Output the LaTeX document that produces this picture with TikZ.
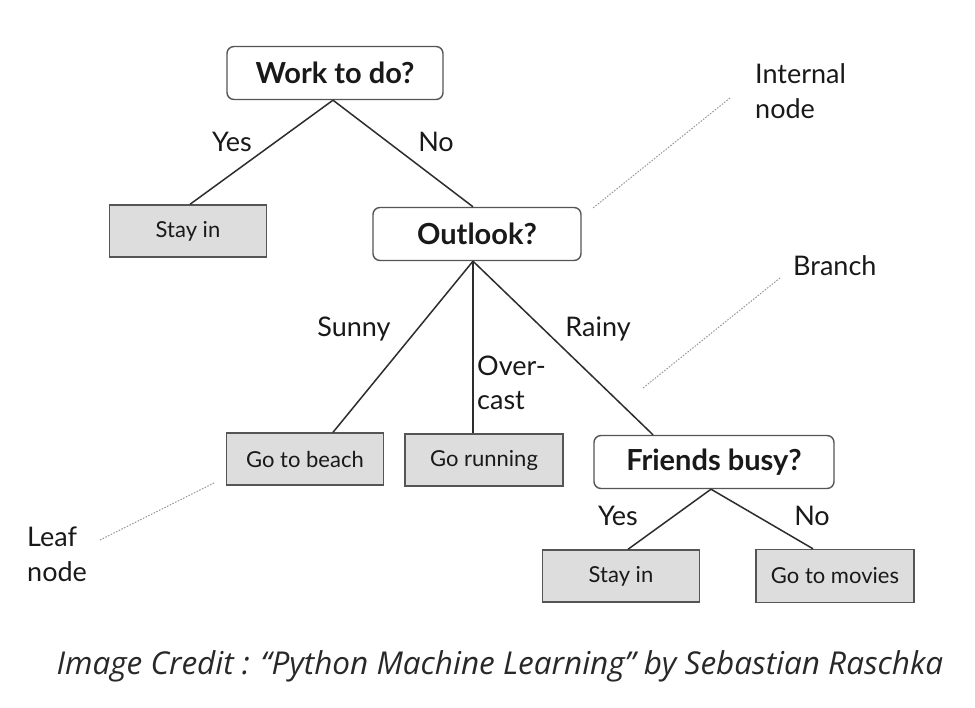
\documentclass[tikz,border=0pt]{standalone}
\usepackage{fontspec}
\setmainfont{Lato}
\newfontfamily\capfont{Open Sans}
\definecolor{boxgray}{RGB}{221,221,221}
\definecolor{edgegray}{RGB}{85,85,85}
\definecolor{linedark}{RGB}{45,45,45}
\definecolor{txt}{RGB}{25,25,25}
\definecolor{dotgray}{RGB}{150,150,150}
\definecolor{capgray}{RGB}{40,40,40}
\begin{document}
\begin{tikzpicture}[x=1pt,y=-1pt,
  qbox/.style={draw=edgegray,line width=1.4pt,rounded corners=7pt,fill=white,
    minimum width=#1,minimum height=53pt,inner sep=0pt,text=txt,
    font=\fontsize{29}{32}\selectfont\bfseries},
  leaf/.style={draw=edgegray,line width=1.4pt,fill=boxgray,
    minimum width=157pt,minimum height=52pt,inner sep=0pt,text=txt,
    font=\fontsize{22}{24}\selectfont},
  lbl/.style={text=txt,inner sep=0pt,font=\fontsize{27}{34}\selectfont},
  ann/.style={text=txt,inner sep=0pt,align=left,font=\fontsize{27}{35}\selectfont},
  branch/.style={draw=linedark,line width=1.5pt},
  pointer/.style={draw=dotgray,line width=1pt,dash pattern=on 1.5pt off 1.5pt}]
\useasboundingbox[fill=white] (0,0) rectangle (975,708);

% internal nodes
\node[qbox=216pt] (work) at (335,73) {Work to do?};
\node[qbox=208pt] (outlook) at (477,234) {Outlook?};
\node[qbox=240pt] (friends) at (714,462) {Friends busy?};

% leaves
\node[leaf] (stay1) at (188,231) {Stay in};
\node[leaf] (beach) at (305,459) {Go to beach};
\node[leaf,minimum width=158pt] (run) at (484,460) {Go running};
\node[leaf] (stay2) at (621,576) {Stay in};
\node[leaf,minimum width=158pt,minimum height=53pt] (movies) at (835,576) {Go to movies};

% branches
\draw[branch] ([xshift=-2pt]work.south) -- ([xshift=2pt]stay1.north);
\draw[branch] ([xshift=-2pt]work.south) -- ([xshift=-4pt]outlook.north);
\draw[branch] ([xshift=-4pt]outlook.south) -- ([xshift=28pt]beach.north);
\draw[branch] ([xshift=-4pt]outlook.south) -- ([xshift=-11pt]run.north);
\draw[branch] ([xshift=-4pt]outlook.south) -- ([xshift=-61pt]friends.north);
\draw[branch] ([xshift=-3pt]friends.south) -- ([xshift=7pt]stay2.north);
\draw[branch] ([xshift=-3pt]friends.south) -- ([xshift=-22pt]movies.north);

% branch labels
\node[lbl] (y1) at (232,142) {Yes};
\node[lbl] (n1) at (436,142) {No};
\node[lbl] (sunny) at (354,329) {Sunny};
\node[lbl,anchor=west,align=left] (over) at (477,383) {Over-\\cast};
\node[lbl] (rainy) at (598,329) {Rainy};
\node[lbl] (y2) at (618,516) {Yes};
\node[lbl] (n2) at (812,516) {No};

% annotations
\node[ann,anchor=west] (intl) at (755,91) {Internal\\node};
\node[ann,anchor=west] (brl) at (793,266) {Branch};
\node[ann,anchor=west] (leafl) at (27,554) {Leaf\\node};
\coordinate (pi1) at (730,98);
\coordinate (pi2) at (593,208);
\coordinate (pb1) at (780,278);
\coordinate (pb2) at (643,388);
\coordinate (pl1) at (100,540);
\coordinate (pl2) at (214,483);
\draw[pointer] (pi1) -- (pi2);
\draw[pointer] (pb1) -- (pb2);
\draw[pointer] (pl1) -- (pl2);

% caption
\node[text=capgray,inner sep=0pt,font=\capfont\itshape\fontsize{31.5}{36}\selectfont] (cap) at (500,666)
  {Image Credit : “Python Machine Learning” by Sebastian Raschka};
\end{tikzpicture}
\end{document}
